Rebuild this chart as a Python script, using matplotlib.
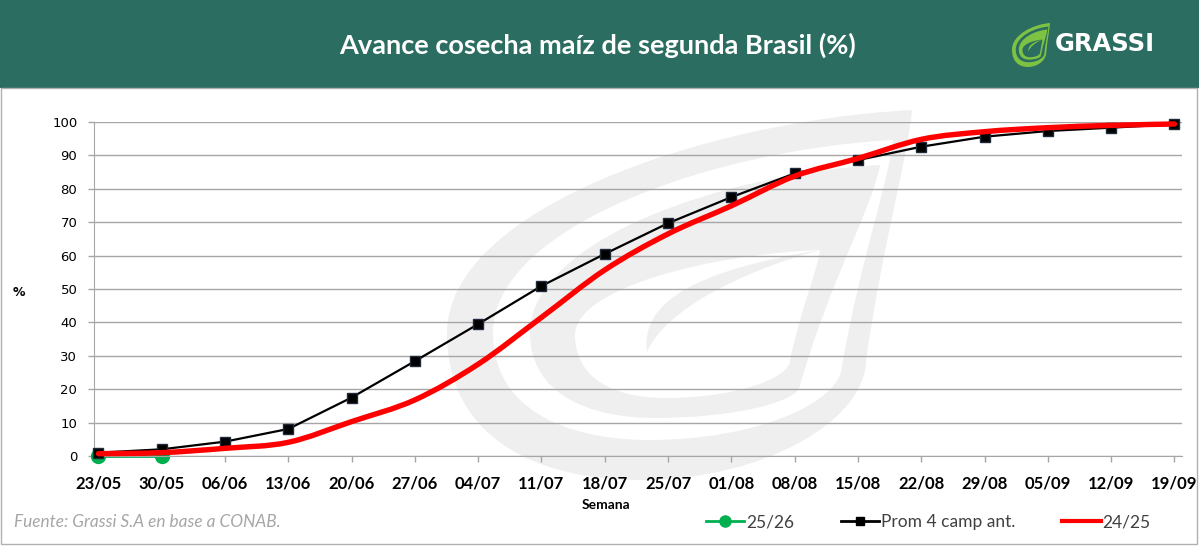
import matplotlib
matplotlib.use("Agg")
import matplotlib.pyplot as plt
from matplotlib.patches import Rectangle, PathPatch
from matplotlib.path import Path
from matplotlib.lines import Line2D

W, H = 1199, 546

weeks = ["23/05", "30/05", "06/06", "13/06", "20/06", "27/06", "04/07", "11/07", "18/07",
         "25/07", "01/08", "08/08", "15/08", "22/08", "29/08", "05/09", "12/09", "19/09"]
prom_4_camp = [1.0, 2.0, 4.3, 8.1, 17.5, 28.4, 39.5, 50.9, 60.5, 69.7, 77.5, 84.6,
               88.6, 92.6, 95.6, 97.3, 98.3, 99.3]
camp_24_25 = [0.7, 1.0, 2.3, 4.1, 10.3, 16.8, 27.5, 41.5, 55.7, 66.5, 74.9, 83.8,
              89.1, 94.8, 97.1, 98.3, 99.0, 99.4]
camp_25_26 = [0.0, 0.0]
y_ticks = list(range(0, 101, 10))

GREEN_HEADER = "#2b6d61"
LOGO_GREEN = "#7dc242"
GRID = "#a6a6a6"


def fx(x):
    return x / W


def fy(y):
    return 1 - y / H


def leaf(tip, left, bottom, right):
    # hoja tipo "gota" con la punta arriba a la derecha (coords en pixeles)
    tx, ty = tip
    lx, ly = left
    bx, by = bottom
    rx, ry = right
    verts = [tip,
             (tx - 0.45 * (tx - lx), ty + 0.05 * (ly - ty)), (lx, ty + 0.45 * (ly - ty)), left,
             (lx, ly + 0.7 * (by - ly)), (lx + 0.45 * (bx - lx), by), bottom,
             (bx + 0.55 * (rx - bx), by), (rx, ry + 0.5 * (by - ry)), right,
             (rx + 0.4 * (tx - rx), ry - 0.5 * (ry - ty)), (tx - 0.1 * (tx - rx), ty + 0.2 * (ry - ty)), tip]
    codes = [Path.MOVETO] + [Path.CURVE4] * 12
    return verts, codes


def spur(a, b):
    verts = [a, (700, 270), (640, 300), b, (665, 310), (740, 272), a]
    codes = [Path.MOVETO] + [Path.CURVE4] * 6
    return verts, codes


# logo en pixeles de la imagen (marca de agua)
logo_parts = [
    (leaf((912, 110), (447, 333), (640, 480), (866, 360)), 0),
    (leaf((893, 140), (493, 333), (650, 440), (842, 365)), 1),
    (leaf((880, 165), (530, 333), (655, 418), (800, 385)), 0),
    (leaf((820, 250), (575, 335), (665, 398), (790, 360)), 1),
    (spur((820, 250), (647, 352)), 0),
]


def draw_logo(fig, x0, y0, x1, y1, colors, zorder):
    sx = (x1 - x0) / (912 - 447)
    sy = (y1 - y0) / (480 - 110)
    for (verts, codes), c in logo_parts:
        v = [(fx(x0 + (x - 447) * sx), fy(y0 + (y - 110) * sy)) for x, y in verts]
        fig.patches.append(PathPatch(Path(v, codes), transform=fig.transFigure,
                                     facecolor=colors[c], edgecolor="none", zorder=zorder))


def smooth_path(xs, ys):
    # curva suavizada tipo Excel (bezier por los puntos)
    pts = list(zip(xs, ys))
    verts = [pts[0]]
    codes = [Path.MOVETO]
    n = len(pts)
    for i in range(n - 1):
        p0 = pts[max(i - 1, 0)]
        p1 = pts[i]
        p2 = pts[i + 1]
        p3 = pts[min(i + 2, n - 1)]
        c1 = (p1[0] + (p2[0] - p0[0]) / 6, p1[1] + (p2[1] - p0[1]) / 6)
        c2 = (p2[0] - (p3[0] - p1[0]) / 6, p2[1] - (p3[1] - p1[1]) / 6)
        verts += [c1, c2, p2]
        codes += [Path.CURVE4] * 3
    return Path(verts, codes)


fig = plt.figure(figsize=(W / 100, H / 100), dpi=100)

# cabecera verde y marco
fig.patches.append(Rectangle((0, fy(87)), 1, 87 / H, transform=fig.transFigure,
                             color=GREEN_HEADER, zorder=-3))
fig.patches.append(Rectangle((fx(1), fy(544)), fx(1196), (544 - 88) / H, transform=fig.transFigure,
                             fill=False, edgecolor="#b0b0b0", lw=1, zorder=-3))

# marca de agua y logo
draw_logo(fig, 447, 110, 912, 480, ["#efefef", "white"], -2)
draw_logo(fig, 1012, 23, 1050, 67, [LOGO_GREEN, GREEN_HEADER], -1)

fig.text(fx(598), fy(45), "Avance cosecha maíz de segunda Brasil (%)", color="white",
         fontsize=19.5, fontweight="bold", family="Lato", ha="center", va="center")
fig.text(fx(1055), fy(44), "GRASSI", color="white", fontsize=17.5, fontweight="bold",
         family="DejaVu Sans", ha="left", va="center")

ax = fig.add_axes([fx(94), fy(456), fx(1182 - 94), (456 - 122) / H])
ax.set_facecolor("none")
x = list(range(len(weeks)))

ax.plot(x[:len(camp_25_26)], camp_25_26, color="#00b050", lw=2, marker="o", ms=10,
        clip_on=False, zorder=2)
ax.plot(x, prom_4_camp, color="black", lw=1.6, marker="s", ms=7, mfc="black",
        mec="#1f2a3a", clip_on=False, zorder=3)
ax.add_patch(PathPatch(smooth_path(x, camp_24_25), facecolor="none", edgecolor="#ff0000",
                       lw=3.9, capstyle="round", joinstyle="round", clip_on=False, zorder=4))

ax.set_xlim(-0.07, 17.12)
ax.set_ylim(0, 100)
ax.set_yticks(y_ticks)
ax.set_xticks(x)
ax.set_xticklabels(weeks, family="Lato", fontweight="bold", fontsize=12, color="black")
ax.tick_params(axis="x", length=4, width=1, color=GRID, pad=10)
ax.tick_params(axis="y", length=4, width=1, color=GRID, pad=8, labelsize=9.5)
ax.grid(axis="y", color=GRID, lw=1)
ax.set_axisbelow(True)
for s in ["top", "right"]:
    ax.spines[s].set_visible(False)
for s in ["left", "bottom"]:
    ax.spines[s].set_color(GRID)

fig.text(fx(606), fy(505), "Semana", fontsize=10, fontweight="bold", family="Lato",
         ha="center", va="center")
fig.text(fx(19), fy(293), "%", fontsize=9, fontweight="bold", ha="center", va="center")
fig.text(fx(14), fy(522), "Fuente: Grassi S.A en base a CONAB.", fontsize=12.4, style="italic",
         color="#a6a6a6", family="Lato", ha="left", va="center")

handles = [
    Line2D([], [], color="#00b050", lw=2, marker="o", ms=8),
    Line2D([], [], color="black", lw=2, marker="s", ms=6),
    Line2D([], [], color="#ff0000", lw=3),
]
labels = ["25/26", "Prom 4 camp ant.", "24/25"]
leg = fig.legend(handles, labels, loc="center left", bbox_to_anchor=(fx(697), fy(522)),
                 ncol=3, frameon=False, handlelength=2.2, handletextpad=0.12,
                 columnspacing=2.7, borderpad=0, prop={"family": "Lato", "size": 12.5})
for t in leg.get_texts():
    t.set_color("#404040")

fig.savefig("out.png", dpi=100)
